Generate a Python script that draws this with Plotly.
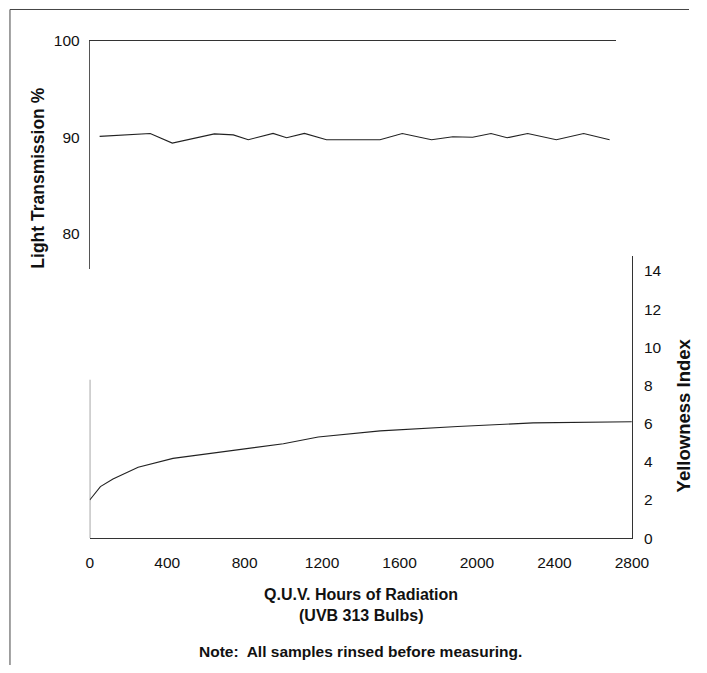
import plotly.graph_objects as go

# ---- data ----
hours_lt = [51, 312, 426, 643, 741, 818, 946, 1016, 1108, 1222, 1498, 1613,
            1764, 1874, 1976, 2071, 2154, 2260, 2408, 2549, 2683]
light_transmission = [90.1, 90.4, 89.4, 90.35, 90.25, 89.75, 90.4, 89.95, 90.4,
                      89.75, 89.75, 90.4, 89.75, 90.05, 90.0, 90.4, 89.95, 90.4,
                      89.75, 90.4, 89.75]

hours_yi = [0, 55, 120, 185, 250, 430, 700, 1000, 1180, 1500, 1900, 2290, 2800]
yellowness_index = [2.0, 2.7, 3.1, 3.42, 3.72, 4.18, 4.55, 4.95, 5.3, 5.62,
                    5.85, 6.04, 6.1]

x_ticks = [0, 400, 800, 1200, 1600, 2000, 2400, 2800]
lt_ticks = [80, 90, 100]
yi_ticks = [0, 2, 4, 6, 8, 10, 12, 14]

W, H = 707, 673
# the figure paper is drawn in this frame of the page
OX, OY, RW, RH = 3.0, 8.0, 687.0, 657.0
FONT = "Liberation Sans"
AX = "#333333"

def fx(px):
    return (px - OX) / RW

def fy(py):
    return 1 - (py - OY) / RH

fig = go.Figure()

fig.add_trace(go.Scatter(x=hours_lt, y=light_transmission, mode="lines",
                         line=dict(color="#222222", width=1.1),
                         xaxis="x2", yaxis="y2", showlegend=False,
                         hoverinfo="skip"))
fig.add_trace(go.Scatter(x=hours_yi, y=yellowness_index, mode="lines",
                         line=dict(color="#222222", width=1.1),
                         xaxis="x", yaxis="y", showlegend=False,
                         hoverinfo="skip"))

fig.update_layout(
    width=W, height=H,
    margin=dict(l=0, r=0, t=0, b=0),
    paper_bgcolor="white", plot_bgcolor="white",
    font=dict(family=FONT, size=15.5, color="#111111"),
    xaxis=dict(domain=[fx(89), fx(632.7)], range=[0, 2800], anchor="y",
               showline=True, linecolor=AX, linewidth=1, showgrid=False,
               zeroline=False, ticks="", tickvals=x_ticks,
               ticklabelstandoff=10, tickfont=dict(size=15.5)),
    yaxis=dict(domain=[fy(538), fy(255)], range=[0, 14.8], anchor="x",
               side="right", showline=True, linecolor=AX, linewidth=1,
               showgrid=False, zeroline=False, ticks="", tickvals=yi_ticks,
               ticklabelstandoff=8, tickfont=dict(size=15.5)),
    xaxis2=dict(domain=[fx(89), fx(617)], range=[0, 2717], anchor="y2",
                side="top", showline=True, linecolor=AX, linewidth=1,
                showgrid=False, zeroline=False, ticks="",
                showticklabels=False),
    yaxis2=dict(domain=[fy(268), fy(40)], range=[76.37, 100], anchor="x2",
                side="left", showline=True, linecolor="#555555", linewidth=1,
                showgrid=False, zeroline=False, ticks="", tickvals=lt_ticks,
                ticklabelstandoff=6, tickfont=dict(size=15.5)),
)

# left edge of the lower panel
fig.add_shape(type="line", xref="x", yref="y", x0=0, x1=0, y0=0, y1=8.3,
              line=dict(color=AX, width=1))

# page border (top and left)
fig.add_shape(type="line", xref="paper", yref="paper", x0=fx(9), x1=1.0,
              y0=fy(8.5), y1=fy(8.5), line=dict(color="#444444", width=1))
fig.add_shape(type="line", xref="paper", yref="paper", x0=fx(9), x1=fx(9),
              y0=fy(8.5), y1=0, line=dict(color="#444444", width=1))

lt_font = dict(family=FONT, size=17.5, color="#111111", weight="bold")
yi_font = dict(family=FONT, size=18.5, color="#111111", weight="bold")
qu_font = dict(family=FONT, size=16, color="#111111", weight="bold")
note_font = dict(family=FONT, size=15.5, color="#111111", weight="bold")
fig.add_annotation(text="Light Transmission %", xref="paper", yref="paper",
                   x=fx(37), y=fy(177), textangle=-90, showarrow=False,
                   font=lt_font, xanchor="center", yanchor="middle")
fig.add_annotation(text="Yellowness Index", xref="paper", yref="paper",
                   x=fx(684), y=fy(415), textangle=-90, showarrow=False,
                   font=yi_font, xanchor="center", yanchor="middle")
fig.add_annotation(text="Q.U.V. Hours of Radiation", xref="paper", yref="paper",
                   x=fx(361), y=fy(594), showarrow=False, font=qu_font,
                   xanchor="center", yanchor="middle")
fig.add_annotation(text="(UVB 313 Bulbs)", xref="paper", yref="paper",
                   x=fx(361), y=fy(615), showarrow=False, font=qu_font,
                   xanchor="center", yanchor="middle")
fig.add_annotation(text="Note:  All samples rinsed before measuring.",
                   xref="paper", yref="paper", x=fx(361), y=fy(651),
                   showarrow=False, font=note_font, xanchor="center",
                   yanchor="middle")

fig.write_html(
    "out.html",
    config={"staticPlot": True, "displayModeBar": False},
    post_script="document.body.style.margin='0';"
                "document.body.style.overflow='hidden';",
)
